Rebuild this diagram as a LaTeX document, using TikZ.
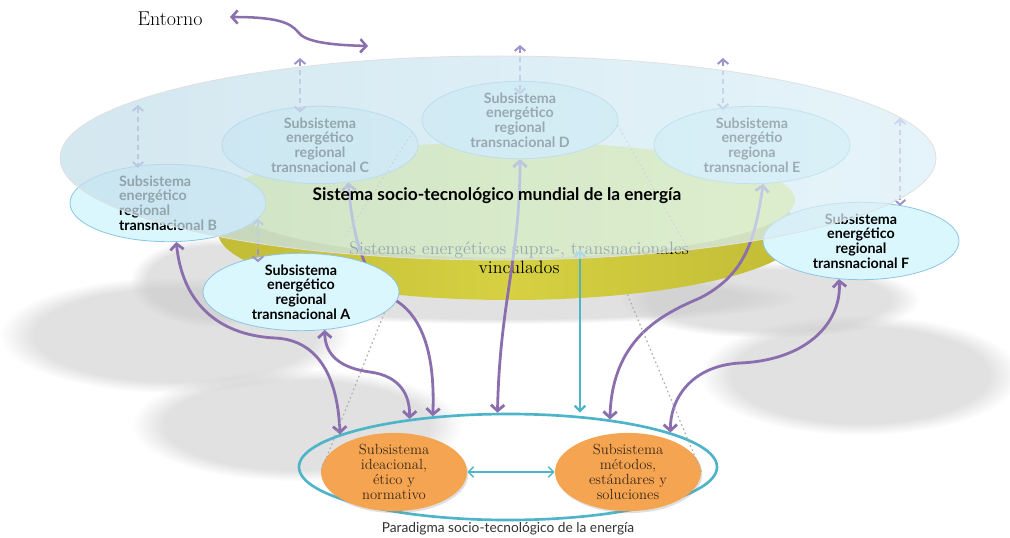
\documentclass[tikz,border=0pt]{standalone}
\usepackage{fontspec}
\usetikzlibrary{shapes.geometric,arrows.meta,shadows,fadings}
\newfontfamily\humansans{Lato}
\definecolor{discblueL}{RGB}{196,223,235}
\definecolor{discblueR}{RGB}{220,240,248}
\definecolor{slabside}{RGB}{214,208,66}
\definecolor{slabdark}{RGB}{194,188,54}
\definecolor{slabtop}{RGB}{234,240,96}
\definecolor{regfill}{RGB}{218,247,253}
\definecolor{regline}{RGB}{140,196,228}
\definecolor{purp}{RGB}{138,110,174}
\definecolor{purpdash}{RGB}{160,146,204}
\definecolor{tealc}{RGB}{78,180,202}
\definecolor{orangefill}{RGB}{245,165,82}
\definecolor{orangetext}{RGB}{60,40,20}
\definecolor{shadowgray}{RGB}{200,200,200}

\begin{document}
\begin{tikzpicture}[x=0.75pt,y=-0.75pt,
  regional/.style={ellipse,draw=regline,line width=0.6pt,fill=regfill,minimum width=147pt,minimum height=55.5pt,inner sep=0pt,align=center,font=\humansans\bfseries\fontsize{10.7}{11}\selectfont},
  orangesub/.style={ellipse,fill=orangefill,minimum width=109.5pt,minimum height=52.5pt,inner sep=0pt,align=center,text=orangetext,font=\fontsize{11}{11.2}\selectfont,drop shadow={opacity=0.25,shadow xshift=1pt,shadow yshift=-1.5pt}},
  purpArrow/.style={draw=purp,line width=2.1pt,>={Straight Barb[length=4.5pt,width=10pt]},<->},
  dashArrow/.style={draw=purpdash,line width=1.5pt,dash pattern=on 4pt off 3pt,>={Straight Barb[length=3.5pt,width=8pt]},<->,shorten >=-3pt},
  tealArrow/.style={draw=tealc,line width=1.8pt,>={Straight Barb[length=4pt,width=8pt]},<->},
  tealThin/.style={draw=tealc,line width=1.1pt,>={Straight Barb[length=4pt,width=8pt]},<->},
  dotLine/.style={draw=gray!65,line width=0.9pt,dash pattern=on 1.2pt off 2.2pt},
  shadowblob/.style={fill=shadowgray,opacity=0.55,path fading=circle with fuzzy edge 20 percent}]
\useasboundingbox (0,0) rectangle (1010,538);

% shadows
\foreach \cx/\cy/\rx/\ry in {175/335/175/58, 215/282/85/45, 297/425/165/56, 860/375/160/60, 770/300/150/38, 505/298/295/26}
  \fill[shadowblob] (\cx,\cy) ellipse [x radius=\rx, y radius=\ry];

\node[ellipse,draw=tealc,line width=2pt,minimum width=313.5pt,minimum height=79.5pt] (para) at (508,467) {};
\node[orangesub] (idea) at (394,472) {Subsistema\\ideacional,\\ético y\\normativo};
\node[orangesub] (meth) at (628,472) {Subsistema\\métodos,\\estándares y\\soluciones};
\node[font=\humansans\fontsize{10.3}{12}\selectfont,text=black!80] (paraLabel) at (508,529) {Paradigma socio-tecnológico de la energía};

% yellow slab
\node[ellipse,left color=slabdark,right color=slabdark,middle color=slabside,minimum width=438pt,minimum height=102pt,inner sep=0pt] (slab) at (510,232) {};
\fill[slabtop] (510,200) ellipse [x radius=285, y radius=58];
\node[font=\fontsize{13.5}{14}\selectfont,align=center] (supra) at (519,258) {Sistemas energéticos supra-, transnacionales\\vinculados};

\node[regional,align=left] (regB) at (168,203) {Subsistema\\energético\\regional\\transnacional B};
\node[regional] (regC) at (320,145) {Subsistema\\energético\\regional\\transnacional C};
\node[regional] (regD) at (520,120) {Subsistema\\energético\\regional\\transnacional D};
\node[regional] (regE) at (752,145) {Subsistema\\energétio\\regiona\\transnacional E};
\draw[purpArrow] (regC.-53) .. controls (352,230) and (362,280) .. (395,300) .. controls (425,318) and (435,360) .. (para.146);
\node[regional] (regA) at (301,292) {Subsistema\\energético\\regional\\transnacional A};
\node[regional] (regF) at (861,241) {Subsistema\\energético\\regional\\transnacional F};

\coordinate (bTop) at (138,105);
\coordinate (cTop) at (300,58);
\coordinate (dTop) at (520,45);
\coordinate (eTop) at (723,58);
\coordinate (fTop) at (900,118);
\draw[dashArrow] (bTop) -- (bTop |- regB.north);
\draw[dashArrow,shorten >=-5pt] (cTop) -- (cTop |- regC.north);
\draw[dashArrow,shorten >=-10pt] (dTop) -- (regD.north);
\draw[dashArrow] (eTop) -- (eTop |- regE.north);
\draw[dashArrow] (fTop) -- (fTop |- regF.north);
\draw[dashArrow,shorten >=-7pt] (regB.-10) -- (regB.-10 |- regA.north);

\draw[purpArrow] (regD.south) .. controls (520,260) and (500,300) .. (para.101);
\draw[purpArrow] (regE.-74) .. controls (755,240) and (745,275) .. (700,298) .. controls (660,315) and (612,340) .. (para.25);
\coordinate (tealTop) at (580,250);
\draw[tealArrow] (tealTop) -- (tealTop |- para.north);
\draw[dotLine] (regC.8) -- (supra.north west);
\draw[dotLine] (regD.-3) -- (supra.east);

% world disc
\shade[left color=discblueL,right color=discblueR,fill opacity=0.73] (498,158) ellipse [x radius=438, y radius=102];
\draw[black!12,line width=0.6pt] (498,158) ellipse [x radius=438, y radius=102];
\node[font=\humansans\bfseries\fontsize{13}{15}\selectfont] (title) at (497,196) {Sistema socio-tecnológico mundial de la energía};

\draw[purpArrow] (regB.-78) .. controls (182,300) and (215,335) .. (275,338) .. controls (320,340) and (338,380) .. (para.169);
\draw[purpArrow] (regA.-58) .. controls (325,355) and (340,368) .. (370,372) .. controls (400,376) and (410,395) .. (para.154);
\draw[purpArrow] (regF.-120) .. controls (842,320) and (810,360) .. (740,363) .. controls (690,366) and (670,400) .. (para.12);
\draw[tealThin] (idea.east) -- (meth.west);
\draw[dotLine] (regA.-14) -- (idea.west);
\draw[dotLine] (slab.-28) -- (meth.east);

\node[font=\fontsize{15}{17}\selectfont] (env) at (170,19) {Entorno};
\coordinate (envL) at (230,17);
\coordinate (envR) at (368,46);
\draw[purpArrow,line width=1.9pt] (envL) .. controls (275,17) and (290,22) .. (298,32) .. controls (305,42) and (330,45) .. (envR);
\end{tikzpicture}
\end{document}
